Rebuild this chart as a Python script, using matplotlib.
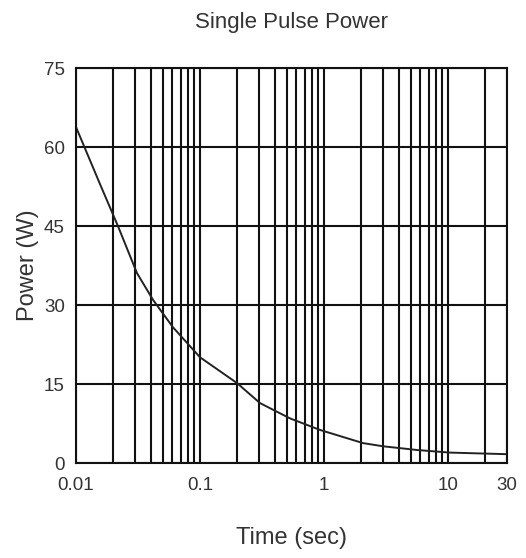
import matplotlib.pyplot as plt
from matplotlib.ticker import LogLocator, NullFormatter

# Data
time_s = [0.01, 0.0156, 0.0218, 0.031, 0.0418, 0.0605, 0.1, 0.199,
          0.305, 0.532, 0.93, 2.07, 3.0, 5.6, 10.4, 30]
power_w = [63.8, 53, 45, 36.1, 31, 25.8, 20.1, 15.2,
           11.4, 8.5, 6.3, 3.8, 3.2, 2.5, 2.0, 1.7]

x_ticks = [0.01, 0.1, 1, 10, 30]
x_ticklabels = ['0.01', '0.1', '1', '10', '30']
y_ticks = [0, 15, 30, 45, 60, 75]

plt.rcParams['font.family'] = ['Liberation Sans', 'DejaVu Sans']

fig = plt.figure(figsize=(5.26, 5.58), dpi=100)
ax = fig.add_axes([0.1445, 0.170, 0.8195, 0.708])

ax.plot(time_s, power_w, color='#222222', linewidth=1.4)

ax.set_xscale('log')
ax.set_xlim(0.01, 30)
ax.set_ylim(0, 75)
ax.set_xticks(x_ticks)
ax.set_xticklabels(x_ticklabels)
ax.xaxis.set_minor_locator(LogLocator(base=10, subs=range(2, 10)))
ax.xaxis.set_minor_formatter(NullFormatter())
ax.set_yticks(y_ticks)

# dense black grid like the datasheet plot
ax.grid(True, which='both', axis='x', color='#111111', linewidth=1.5)
ax.grid(True, which='major', axis='y', color='#111111', linewidth=1.5)
ax.tick_params(which='both', length=0, labelsize=13.5, colors='#333333')
ax.tick_params(axis='x', pad=10)
ax.tick_params(axis='y', pad=8)

for s in ax.spines.values():
    s.set_color('#111111')
    s.set_linewidth(1.5)

ax.set_title('Single Pulse Power', fontsize=16, color='#333333', y=1.115, pad=0, va='center')
ax.set_xlabel('Time (sec)', fontsize=17, color='#333333', va='center')
ax.xaxis.set_label_coords(0.5, -0.19)
ax.set_ylabel('Power (W)', fontsize=17, color='#333333', va='center')
ax.yaxis.set_label_coords(-0.111, 0.5)

fig.savefig('out.png', dpi=100)
